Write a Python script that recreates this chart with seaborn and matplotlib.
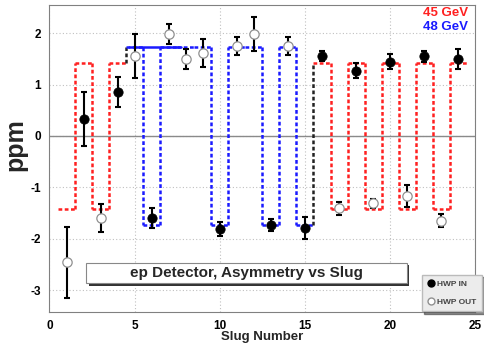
import matplotlib
matplotlib.use("Agg")
import matplotlib.pyplot as plt
import seaborn as sns
import pandas as pd
import numpy as np
from matplotlib.lines import Line2D
from matplotlib.patches import Rectangle

# data
slugs = list(range(1, 25))
asym = [-2.46, 0.33, -1.60, 0.86, 1.56, -1.60, 1.99, 1.50, 1.62, -1.81, 1.75, 1.98,
        -1.74, 1.75, -1.79, 1.56, -1.41, 1.27, -1.31, 1.45, -1.17, 1.55, -1.65, 1.50]
err = [0.69, 0.53, 0.28, 0.29, 0.43, 0.20, 0.20, 0.19, 0.27, 0.14, 0.18, 0.33,
       0.12, 0.18, 0.22, 0.10, 0.12, 0.15, 0.09, 0.15, 0.22, 0.10, 0.13, 0.19]
hwp = ['OUT', 'IN', 'OUT', 'IN', 'OUT', 'IN', 'OUT', 'OUT', 'OUT', 'IN', 'OUT', 'OUT',
       'IN', 'OUT', 'IN', 'IN', 'OUT', 'IN', 'OUT', 'IN', 'OUT', 'IN', 'OUT', 'IN']

# expected sign pattern per slug and beam energy
energy = [45] * 4 + [48] * 11 + [45] * 9
sign = [-1, 1, -1, 1, 1, -1, 1, 1, 1, -1, 1, 1, -1, 1, -1, 1, -1, 1, -1, 1, -1, 1, -1, 1]
amp = {45: 1.43, 48: 1.73}
colors = {45: '#ff2020', 48: '#1a1aff'}
solid_48_x = [4.65, 7.7]

x_ticks = [0, 5, 10, 15, 20, 25]
y_ticks = [-3, -2, -1, 0, 1, 2]

df = pd.DataFrame({'slug': slugs, 'asym': asym, 'err': err, 'hwp': hwp})

sns.set_style("white")
plt.rcParams['font.family'] = ['Liberation Sans', 'DejaVu Sans']
plt.rcParams['font.weight'] = 'bold'

fig = plt.figure(figsize=(4.85, 3.46), dpi=100)
ax = fig.add_axes([0.102, 0.098, 0.878, 0.8875])

ax.set_xlim(0, 25)
ax.set_ylim(-3.43, 2.55)

# grid and zero line
ax.set_xticks(x_ticks)
ax.set_yticks(y_ticks)
ax.set_xticks(np.arange(0, 25.1, 1), minor=True)
ax.set_yticks(np.arange(-3, 2.6, 0.5), minor=True)
ax.grid(True, which='major', color='#c0c0c0', linestyle=(0, (1, 2)), linewidth=0.8)
ax.axhline(0, color='#8a8a8a', linewidth=1.0, zorder=1)

# expected asymmetry pattern
dash = (0, (1.5, 1.0))
vals = [s * amp[e] for s, e in zip(sign, energy)]
for i, s in enumerate(slugs):
    c = colors[energy[i]]
    ax.plot([s - 0.5, s + 0.5], [vals[i], vals[i]], color=c, linestyle=dash, lw=1.8, zorder=2)
    if i + 1 < len(slugs):
        vc = c if energy[i] == energy[i + 1] else '#222222'
        ax.plot([s + 0.5, s + 0.5], [vals[i], vals[i + 1]], color=vc, linestyle=dash, lw=1.8, zorder=2)
ax.plot(solid_48_x, [amp[48], amp[48]], color=colors[48], lw=1.8, zorder=2)

# data points
ax.errorbar(df['slug'], df['asym'], yerr=df['err'], fmt='none', ecolor='black',
            elinewidth=1.5, capsize=2.2, capthick=1.5, zorder=3)
sns.scatterplot(data=df[df.hwp == 'IN'], x='slug', y='asym', ax=ax, color='black',
                edgecolor='black', s=45, zorder=4, legend=False)
sns.scatterplot(data=df[df.hwp == 'OUT'], x='slug', y='asym', ax=ax, color='white',
                edgecolor='#909090', linewidth=0.9, s=45, zorder=4, legend=False)

# axes styling
for sp in ax.spines.values():
    sp.set_color('#808080')
    sp.set_linewidth(0.8)
ax.tick_params(which='both', direction='in', colors='#808080', labelcolor='black',
               top=False, right=False)
ax.tick_params(which='major', length=5, labelsize=8.5, pad=6)
ax.tick_params(which='minor', length=3)
for lab in ax.get_xticklabels() + ax.get_yticklabels():
    lab.set_fontweight('bold')
ax.set_yticklabels([str(t) for t in y_ticks])

ax.set_xlabel('Slug Number', fontsize=9.5, fontweight='bold', labelpad=-1)
ax.set_ylabel('ppm', fontsize=18, fontweight='bold', va='center')
ax.yaxis.set_label_coords(-0.081, 0.544)

# energy labels
ax.text(0.984, 0.974, '45 GeV', transform=ax.transAxes, color='#ff2020', fontsize=9.5,
        fontweight='bold', ha='right', va='center')
ax.text(0.984, 0.928, '48 GeV', transform=ax.transAxes, color='#1a1aff', fontsize=9.5,
        fontweight='bold', ha='right', va='center')

# title box with shadow
ax.add_patch(Rectangle((0.0857 + 0.006, 0.094 - 0.008), 0.753, 0.066, transform=ax.transAxes,
                       facecolor='#333333', edgecolor='none', zorder=5))
ax.add_patch(Rectangle((0.0857, 0.094), 0.753, 0.066, transform=ax.transAxes,
                       facecolor='white', edgecolor='#888888', lw=0.8, zorder=6))
ax.text(0.462, 0.127, 'ep Detector, Asymmetry vs Slug', transform=ax.transAxes,
        fontsize=11, fontweight='bold', ha='center', va='center', zorder=7)

# legend
handles = [
    Line2D([], [], marker='o', linestyle='none', markerfacecolor='black',
           markeredgecolor='black', markersize=5),
    Line2D([], [], marker='o', linestyle='none', markerfacecolor='white',
           markeredgecolor='#909090', markersize=5),
]
leg = ax.legend(handles, ['HWP IN', 'HWP OUT'], loc='lower left',
                bbox_to_anchor=(0.874, 0.003, 0.142, 0.124), mode='expand',
                fontsize=6, frameon=True, fancybox=False, shadow={'color': '#222222'},
                handletextpad=0.2, handlelength=1.0, borderpad=0.6,
                labelspacing=1.3, borderaxespad=0)
leg.get_frame().set_facecolor('#ececec')
leg.get_frame().set_edgecolor('#bbbbbb')
for t in leg.get_texts():
    t.set_color('#444444')
leg.set_zorder(8)

fig.savefig('out.png', dpi=100)
